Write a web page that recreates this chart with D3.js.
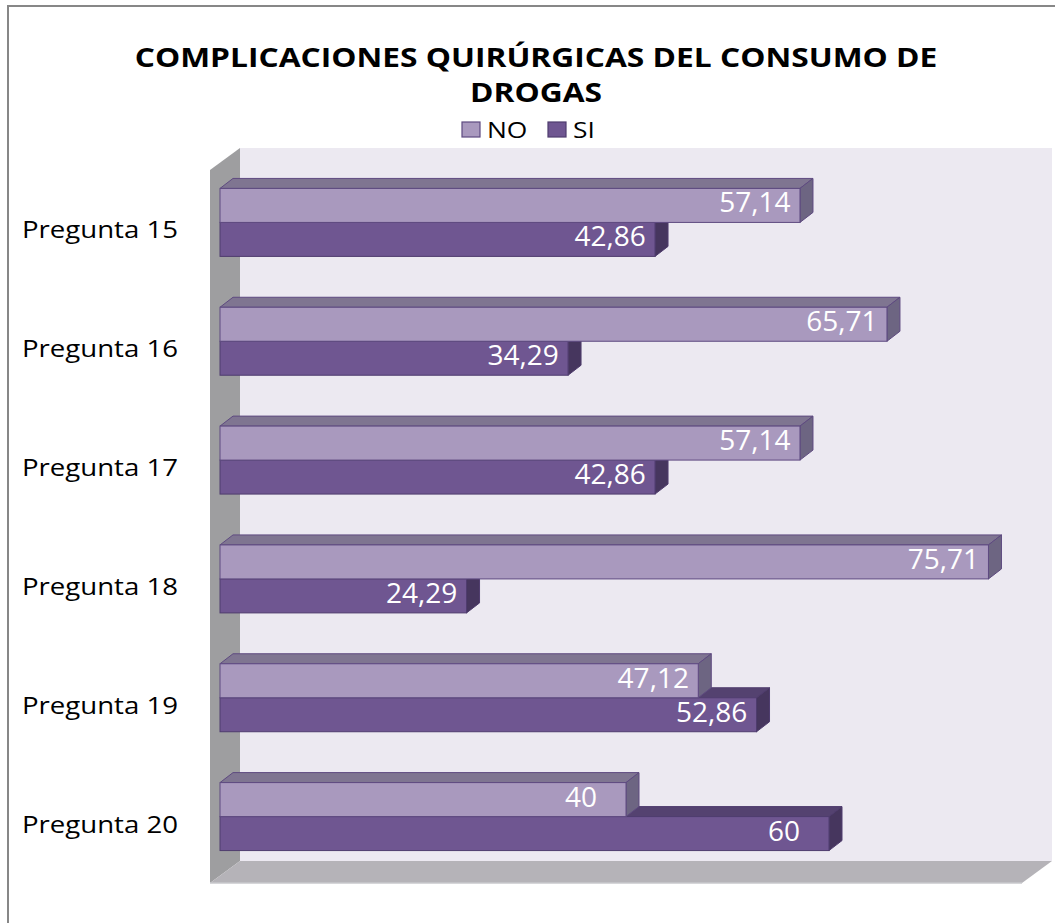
<!DOCTYPE html>
<html>
<head>
<meta charset="utf-8">
<script src="https://cdn.jsdelivr.net/npm/d3@7"></script>
<style>
  html, body { margin: 0; padding: 0; background: #ffffff; }
  svg text { font-family: "Open Sans", "DejaVu Sans", sans-serif; }
</style>
</head>
<body>
<div id="chart"></div>
<script>
// Données du graphique
const categories = ["Pregunta 15", "Pregunta 16", "Pregunta 17", "Pregunta 18", "Pregunta 19", "Pregunta 20"];
const seriesNames = ["NO", "SI"];
const noValues = [57.14, 65.71, 57.14, 75.71, 47.12, 40];
const siValues = [42.86, 34.29, 42.86, 24.29, 52.86, 60];
const titleLines = ["COMPLICACIONES QUIRÚRGICAS DEL CONSUMO DE", "DROGAS"];

const W = 1055, H = 923;

// Couleurs (face avant, dessus, côté)
const colors = {
  NO: { front: "#a999be", top: "#7f7591", side: "#6d6582", stroke: "#5e4a80" },
  SI: { front: "#6f5691", top: "#544270", side: "#46365e", stroke: "#4f3c6e" }
};

// Plan avant de la boîte 3D, profondeur
const depth = { dx: 30, dy: -22 };
const barOff = { dx: 10, dy: -7 };
const barDepth = { dx: 13, dy: -10 };

const x = d3.scaleLinear().domain([0, 80]).range([210, 1022]);
const y = d3.scaleBand().domain(categories).range([170, 883])
  .paddingInner(0.428).paddingOuter(0.214);
const ys = d3.scaleBand().domain(seriesNames).range([0, y.bandwidth()]);

const fmt = d3.formatLocale({ decimal: ",", thousands: ".", grouping: [3], currency: ["", ""] }).format(".2~f");

const svg = d3.select("#chart").append("svg")
  .attr("width", W).attr("height", H);

// Cadre extérieur
svg.append("rect")
  .attr("x", 8).attr("y", 6).attr("width", 1200).attr("height", 1200)
  .attr("fill", "#ffffff").attr("stroke", "#878787").attr("stroke-width", 2);

const [x0, x1] = x.range();
const [y0, y1] = y.range();

// Mur du fond
svg.append("rect")
  .attr("x", x0 + depth.dx).attr("y", y0 + depth.dy)
  .attr("width", x1 - x0).attr("height", y1 - y0)
  .attr("fill", "#ece9f1");

// Mur gauche
svg.append("polygon")
  .attr("points", [
    [x0, y0], [x0 + depth.dx, y0 + depth.dy],
    [x0 + depth.dx, y1 + depth.dy], [x0, y1]
  ].map(p => p.join(",")).join(" "))
  .attr("fill", "#9e9ea0");

// Sol
svg.append("polygon")
  .attr("points", [
    [x0, y1], [x0 + depth.dx, y1 + depth.dy],
    [x1 + depth.dx, y1 + depth.dy], [x1, y1]
  ].map(p => p.join(",")).join(" "))
  .attr("fill", "#b5b3b8");
svg.append("line")
  .attr("x1", x0).attr("y1", y1).attr("x2", x1).attr("y2", y1)
  .attr("stroke", "#c9c8cc").attr("stroke-width", 1.5);

// Données par groupe (SI dessiné d'abord, NO par-dessus)
const rows = categories.map((c, i) => ({
  cat: c,
  bars: [
    { s: "SI", v: siValues[i] },
    { s: "NO", v: noValues[i] }
  ]
}));

const groups = svg.selectAll(".grp").data(rows).enter().append("g").attr("class", "grp");

groups.each(function(row) {
  const g = d3.select(this);
  row.bars.forEach(b => {
    const fx0 = x(0) + barOff.dx;
    const fx1 = x(b.v) + barOff.dx;
    const fy0 = y(row.cat) + ys(b.s) + barOff.dy;
    const fy1 = fy0 + ys.bandwidth();
    const c = colors[b.s];
    const pts = arr => arr.map(p => p.join(",")).join(" ");
    // dessus
    g.append("polygon")
      .attr("points", pts([[fx0, fy0], [fx0 + barDepth.dx, fy0 + barDepth.dy],
        [fx1 + barDepth.dx, fy0 + barDepth.dy], [fx1, fy0]]))
      .attr("fill", c.top).attr("stroke", c.stroke).attr("stroke-width", 1)
      .attr("stroke-linejoin", "round");
    // côté
    g.append("polygon")
      .attr("points", pts([[fx1, fy0], [fx1 + barDepth.dx, fy0 + barDepth.dy],
        [fx1 + barDepth.dx, fy1 + barDepth.dy], [fx1, fy1]]))
      .attr("fill", c.side).attr("stroke", c.stroke).attr("stroke-width", 1)
      .attr("stroke-linejoin", "round");
    // face avant
    g.append("rect")
      .attr("x", fx0).attr("y", fy0)
      .attr("width", fx1 - fx0).attr("height", fy1 - fy0)
      .attr("fill", c.front).attr("stroke", c.stroke).attr("stroke-width", 1);
  });
});

// Étiquettes de valeurs
groups.each(function(row) {
  const g = d3.select(this);
  row.bars.forEach(b => {
    g.append("text")
      .attr("x", x(b.v) + barOff.dx - 45)
      .attr("y", y(row.cat) + ys(b.s) + barOff.dy + 24)
      .attr("text-anchor", "middle")
      .style("font-size", "28px")
      .style("fill", "#ffffff")
      .text(fmt(b.v));
  });
});

// Étiquettes des catégories
svg.selectAll(".cat").data(categories).enter().append("text")
  .attr("class", "cat")
  .attr("transform", d => `translate(178,${y(d) + y.bandwidth() / 2 + 9}) scale(1.2,1)`)
  .attr("text-anchor", "end")
  .style("font-size", "23px")
  .style("fill", "#000000")
  .text(d => d);

// Titre
svg.selectAll(".title").data(titleLines).enter().append("text")
  .attr("class", "title")
  .attr("transform", (d, i) => `translate(536,${67 + i * 35}) scale(1.22,1)`)
  .attr("text-anchor", "middle")
  .style("font-size", "26px")
  .style("font-weight", "bold")
  .style("fill", "#000000")
  .text(d => d);

// Légende
const legend = svg.selectAll(".leg").data(seriesNames).enter().append("g")
  .attr("class", "leg")
  .attr("transform", (d, i) => `translate(${462 + i * 86},122)`);
legend.append("rect")
  .attr("width", 18).attr("height", 15)
  .attr("fill", d => colors[d].front)
  .attr("stroke", d => colors[d].stroke).attr("stroke-width", 1.2);
legend.append("text")
  .attr("transform", "translate(25,16) scale(1.2,1)")
  .style("font-size", "22px")
  .style("fill", "#000000")
  .text(d => d);
</script>
</body>
</html>
